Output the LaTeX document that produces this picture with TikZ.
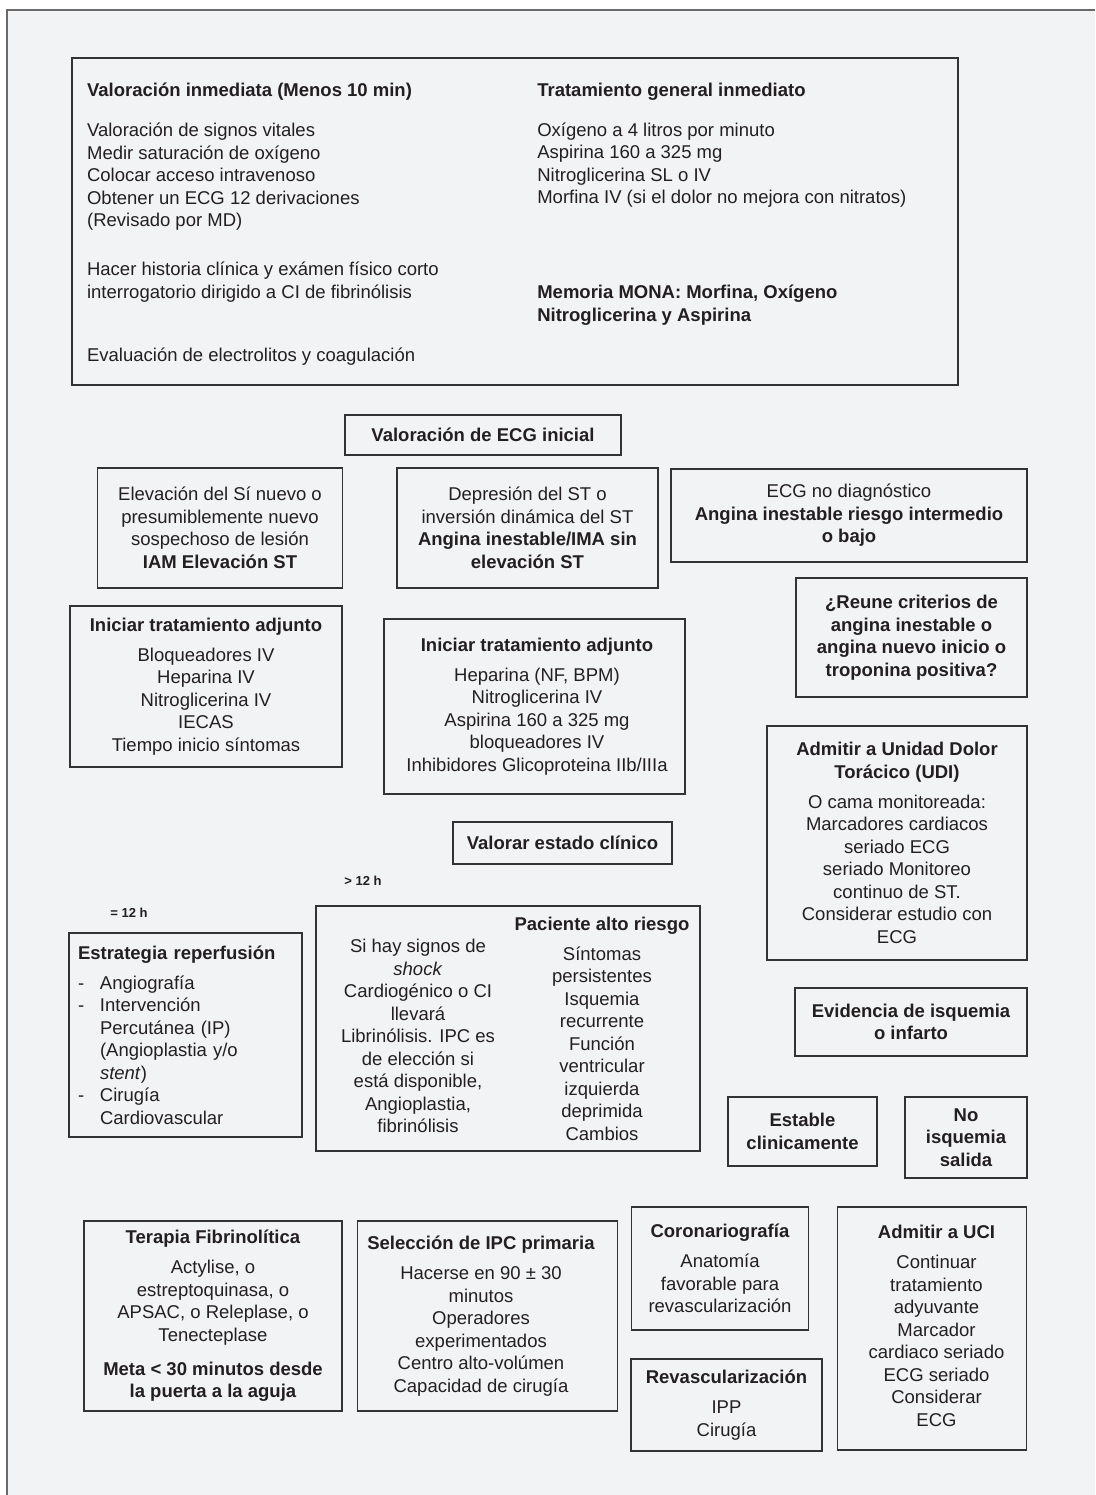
\documentclass[tikz,border=0pt]{standalone}
\usepackage{fontspec}
\setmainfont{Liberation Sans}
\usepackage{tikz}
\usetikzlibrary{positioning}
\definecolor{bgc}{HTML}{F2F3F5}
\definecolor{inkc}{HTML}{231F20}
\definecolor{linec}{HTML}{333333}
\definecolor{framec}{HTML}{6A6A6A}
\newcommand{\bhead}[1]{\textbf{#1}\\[7.5pt]}
\newcommand{\dashitem}[1]{\makebox[22pt][l]{-}#1}
\newcommand{\contitem}[1]{\hspace*{22pt}#1}
\tikzset{
	flow chart/.style={
		x=1pt, y=-1pt,
		every node/.style={font=\fontsize{18.5}{22.5}\selectfont, text=inkc}
		},
	bx/.style={draw=linec, line width=1.2pt, align=center, inner sep=0pt},
	bx size/.style 2 args={minimum width=#1, minimum height=#2},
	col/.style={align=left, inner sep=0pt},
	hours/.style={font=\fontsize{13}{15}\selectfont\bfseries, inner sep=0pt}
}

\begin{document}
\begin{tikzpicture}[flow chart]
  \useasboundingbox (0,0) rectangle (1095,1495);
  \fill[bgc] (7,10) rectangle (1095,1495);
  \draw[framec, line width=1.5pt] (7,1495) -- (7,10) -- (1095,10);

  % first assessment
  \node[bx, bx size={886}{327}] (inmed) at (515,221.5) {};
  \node[col, below right=25.5pt and 15.5pt of inmed.north west] (inmedL) {\textbf{Valoración inmediata (Menos 10 min)}\\[17.5pt]
    Valoración de signos vitales\\ Medir saturación de oxígeno\\ Colocar acceso intravenoso\\
    Obtener un ECG 12 derivaciones\\ (Revisado por MD)\\[26.5pt]
    Hacer historia clínica y exámen físico corto\\ interrogatorio dirigido a CI de fibrinólisis\\[40.5pt]
    Evaluación de electrolitos y coagulación};
  \node[col, below right=25.3pt and 465.7pt of inmed.north west] (inmedR) {\textbf{Tratamiento general inmediato}\\[17.5pt]
    Oxígeno a 4 litros por minuto\\ Aspirina 160 a 325 mg\\ Nitroglicerina SL o IV\\
    Morfina IV (si el dolor no mejora con nitratos)\\[72.5pt]
    \textbf{Memoria MONA: Morfina, Oxígeno}\\ \textbf{Nitroglicerina y Aspirina}};

  % ECG
  \node[bx, bx size={276}{40}, font=\fontsize{18.5}{22.5}\selectfont\bfseries] (ecg) at (483,435) {Valoración de ECG inicial};
  \node[bx, bx size={245}{120}] (elev) at (220,528) {Elevación del Sí nuevo o\\ presumiblemente nuevo\\ sospechoso de lesión\\ \textbf{IAM Elevación ST}};
  \node[bx, bx size={261}{120}] (depr) at (527.5,528) {Depresión del ST o\\ inversión dinámica del ST\\ \textbf{Angina inestable/IMA sin}\\ \textbf{elevación ST}};
  \node[bx, bx size={356}{93}] (nodiag) at (849,515.5) {ECG no diagnóstico\\ \textbf{Angina inestable riesgo intermedio}\\ \textbf{o bajo}};
  \node[bx, bx size={231}{119}, font=\fontsize{18.5}{22.5}\selectfont\bfseries] (reune) at (911.5,637.5) {¿Reune criterios de\\ angina inestable o\\ angina nuevo inicio o\\ troponina positiva?};

  % treatment
  \node[bx, bx size={272}{161}] (adjA) at (206,686.5) {\bhead{Iniciar tratamiento adjunto}
    Bloqueadores IV\\ Heparina IV\\ Nitroglicerina IV\\ IECAS\\ Tiempo inicio síntomas};
  \node[bx, bx size={301}{175}] (adjB) at (534.5,706.5) {};
  \node[align=center, inner sep=0pt] (adjBtext) at (537,706.5) {\bhead{Iniciar tratamiento adjunto}
    Heparina (NF, BPM)\\ Nitroglicerina IV\\ Aspirina 160 a 325 mg\\ bloqueadores IV\\ Inhibidores Glicoproteina IIb/IIIa};
  \node[bx, bx size={260}{234}] (udi) at (897,843) {\textbf{Admitir a Unidad Dolor}\\ \bhead{Torácico (UDI)}
    O cama monitoreada:\\ Marcadores cardiacos\\ seriado ECG\\ seriado Monitoreo\\ continuo de ST.\\ Considerar estudio con\\ ECG};
  \node[bx, bx size={219}{42}, font=\fontsize{18.5}{22.5}\selectfont\bfseries] (estado) at (562.5,843) {Valorar estado clínico};

  % time labels
  \node[hours] (gt12) at (363,881) {> 12 h};
  \node[hours] (eq12) at (129,913) {= 12 h};

  % reperfusion
  \node[bx, bx size={233}{204}, align=left, text width=215pt, inner xsep=9pt] (reperf) at (185.5,1035) {\bhead{Estrategia reperfusión}
    \dashitem{Angiografía}\\ \dashitem{Intervención}\\ \contitem{Percutánea (IP)}\\ \contitem{(Angioplastia y/o}\\
    \contitem{\textit{stent})}\\ \dashitem{Cirugía}\\ \contitem{Cardiovascular}};
  \node[bx, bx size={384}{245}] (riesgo) at (508,1028.5) {};
  \node[align=center, inner sep=0pt] (riesgoL) at (418,1036) {Si hay signos de\\ \textit{shock}\\ Cardiogénico o CI\\ llevará\\
    Librinólisis. IPC es\\ de elección si\\ está disponible,\\ Angioplastia,\\ fibrinólisis};
  \node[align=center, inner sep=0pt] (riesgoR) at (602,1028.5) {\bhead{Paciente alto riesgo}
    Síntomas\\ persistentes\\ Isquemia\\ recurrente\\ Función\\ ventricular\\ izquierda\\ deprimida\\ Cambios};

  % right branch
  \node[bx, bx size={232}{68}, font=\fontsize{18.5}{22.5}\selectfont\bfseries] (evid) at (911,1022) {Evidencia de isquemia\\ o infarto};
  \node[bx, bx size={149}{69}, font=\fontsize{18.5}{22.5}\selectfont\bfseries] (estab) at (802.5,1131.5) {Estable\\ clinicamente};
  \node[bx, bx size={122}{81}, font=\fontsize{18.5}{22.5}\selectfont\bfseries] (noisq) at (966,1137.5) {No\\ isquemia\\ salida};

  % final row
  \node[bx, bx size={258}{190}] (fibri) at (213,1316) {\bhead{Terapia Fibrinolítica}
    Actylise, o\\ estreptoquinasa, o\\ APSAC, o Releplase, o\\ Tenecteplase\\[11.5pt]
    \textbf{Meta < 30 minutos desde}\\ \textbf{la puerta a la aguja}};
  \node[bx, bx size={260}{190}] (ipc) at (487.5,1316) {};
  \node[align=center, inner sep=0pt] (ipctext) at (481,1316) {\bhead{Selección de IPC primaria}
    Hacerse en 90 ± 30\\ minutos\\ Operadores\\ experimentados\\ Centro alto-volúmen\\ Capacidad de cirugía};
  \node[bx, bx size={177.5}{123}] (coro) at (720,1268.5) {\bhead{Coronariografía}
    Anatomía\\ favorable para\\ revascularización};
  \node[bx, bx size={191}{92}] (revasc) at (726.5,1405) {\bhead{Revascularización}
    IPP\\ Cirugía};
  \node[bx, bx size={189.5}{243}] (uci) at (932,1328.5) {};
  \node[align=center, inner sep=0pt] (ucitext) at (936.5,1326) {\bhead{Admitir a UCI}
    Continuar\\ tratamiento\\ adyuvante\\ Marcador\\ cardiaco seriado\\ ECG seriado\\ Considerar\\ ECG};
\end{tikzpicture}
\end{document}
